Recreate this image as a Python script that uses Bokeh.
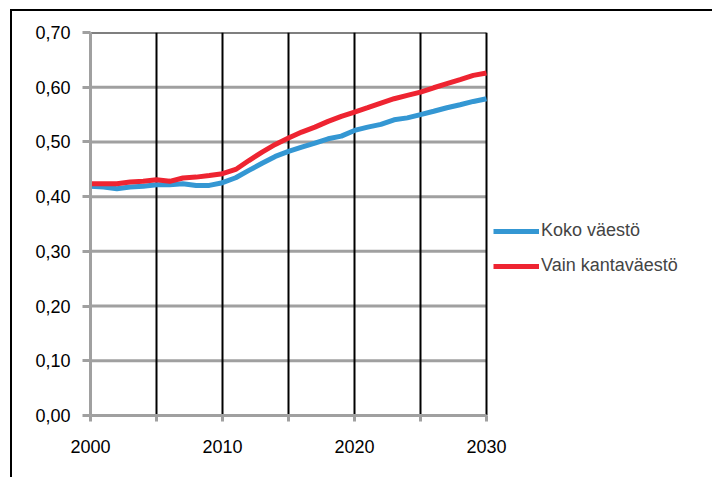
from bokeh.plotting import figure
from bokeh.models import (Range1d, FixedTicker, Legend, LegendItem, InlineStyleSheet)
from bokeh.embed import file_html
from bokeh.resources import INLINE

years = list(range(2000, 2031))
koko = [0.419, 0.4175, 0.4145, 0.4175, 0.419, 0.4217, 0.4217, 0.4236, 0.4205, 0.4205, 0.4255,
        0.4345, 0.448, 0.461, 0.4735, 0.4826, 0.4905, 0.498, 0.5058, 0.5106, 0.521,
        0.527, 0.532, 0.5405, 0.544, 0.550, 0.556, 0.5625, 0.568, 0.574, 0.579]
kanta = [0.4236, 0.4236, 0.4236, 0.4266, 0.428, 0.431, 0.428, 0.434, 0.4357, 0.4388, 0.442,
         0.4497, 0.466, 0.4814, 0.4954, 0.507, 0.518, 0.527, 0.5375, 0.5466, 0.5545,
         0.5625, 0.571, 0.579, 0.585, 0.591, 0.599, 0.6065, 0.614, 0.6216, 0.626]
series_names = ["Koko väestö", "Vain kantaväestö"]
x_ticks = [2000, 2005, 2010, 2015, 2020, 2025, 2030]
x_tick_labels = ["2000", "", "2010", "", "2020", "", "2030"]
y_ticks = [0.0, 0.1, 0.2, 0.3, 0.4, 0.5, 0.6, 0.7]
y_tick_labels = ["0,00", "0,10", "0,20", "0,30", "0,40", "0,50", "0,60", "0,70"]

FONT = "Liberation Sans"
FS = "18px"
GRAY = "#a0a0a0"
X0, X1 = x_ticks[0], x_ticks[-1]
Y0, Y1 = y_ticks[0], y_ticks[-1]

border_css = InlineStyleSheet(css="""
:host { overflow: visible; }
:host::after {
  content: ''; position: absolute; left: 10px; top: 9px;
  width: calc(100% - 10px); height: calc(100% - 9px);
  border-left: 2px solid black; border-top: 2px solid black;
  box-sizing: border-box; pointer-events: none; z-index: 5;
}
""")

W, H = 712, 477
p = figure(width=W, height=H, output_backend="svg", toolbar_location=None,
           x_range=Range1d(X0, X0 + (X1 - X0) * (W - 90) / 396), y_range=Range1d(Y0, Y1),
           min_border_left=90, min_border_top=32, min_border_right=0, min_border_bottom=H - 415,
           stylesheets=[border_css])
p.outline_line_color = None
p.background_fill_color = "white"
p.border_fill_color = "white"
p.grid.visible = False

# horizontal grid lines (gray), limited to the plot area
hy = y_ticks[1:-1]
p.segment(x0=[X0] * len(hy), y0=hy, x1=[X1] * len(hy), y1=hy,
          line_color=GRAY, line_width=3)
# top edge (black)
p.segment(x0=[X0], y0=[Y1], x1=[X1], y1=[Y1], line_color="black", line_width=2)
# vertical grid lines (black)
vx = x_ticks[1:]
p.segment(x0=vx, y0=[Y0] * len(vx), x1=vx, y1=[Y1] * len(vx),
          line_color="black", line_width=2)

# axes
p.xaxis.ticker = FixedTicker(ticks=x_ticks)
p.xaxis.major_label_overrides = dict(zip(x_ticks, x_tick_labels))
p.xaxis.bounds = (X0, X1)
p.yaxis.ticker = FixedTicker(ticks=y_ticks)
p.yaxis.major_label_overrides = dict(zip(y_ticks, y_tick_labels))
for ax in (p.xaxis[0], p.yaxis[0]):
    ax.axis_line_color = GRAY
    ax.axis_line_width = 3
    ax.major_tick_line_color = GRAY
    ax.major_tick_line_width = 3
    ax.major_tick_in = 0
    ax.minor_tick_line_color = None
    ax.major_label_text_font = FONT
    ax.major_label_text_font_size = FS
    ax.major_label_text_color = "black"
p.xaxis.major_tick_out = 6
p.yaxis.major_tick_out = 8
p.yaxis.major_label_standoff = 12
p.xaxis.major_label_standoff = 18

r1 = p.line(years, koko, line_color="#3497D3", line_width=5)
r2 = p.line(years, kanta, line_color="#EE2431", line_width=5)

legend = Legend(items=[LegendItem(label=series_names[0], renderers=[r1]),
                       LegendItem(label=series_names[1], renderers=[r2])],
                location=(403, 139), padding=0, margin=0, spacing=14,
                glyph_width=46, glyph_height=20, label_height=20, label_standoff=2,
                label_text_font=FONT, label_text_font_size=FS,
                border_line_color=None, background_fill_alpha=0)
p.add_layout(legend)

open("out.html", "w").write(file_html(p, INLINE))
